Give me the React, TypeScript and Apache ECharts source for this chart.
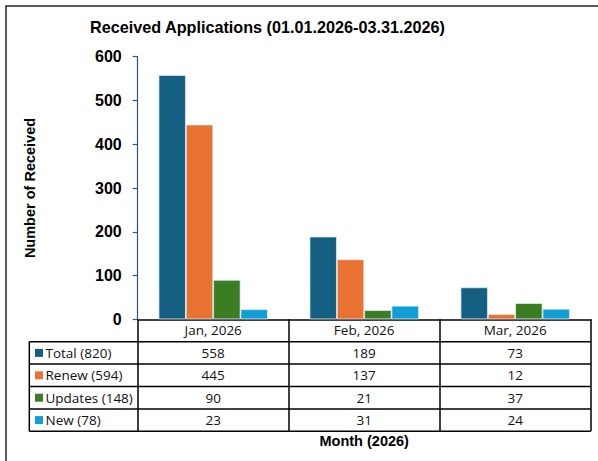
import React, { useEffect, useRef } from 'react';
import * as echarts from 'echarts';

// ---- data ----
const categories = ['Jan, 2026', 'Feb, 2026', 'Mar, 2026'];
const seriesNames = ['Total', 'Renew', 'Updates', 'New'];
const totalValues = [558, 189, 73];
const renewValues = [445, 137, 12];
const updatesValues = [90, 21, 37];
const newValues = [23, 31, 24];
const yMin = 0;
const yMax = 600;
const yInterval = 100;

const titleText = 'Received Applications (01.01.2026-03.31.2026)';
const yAxisName = 'Number of Received';
const xAxisName = 'Month (2026)';

const colors = ['#156082', '#E97132', '#3A7D22', '#0F9ED5'];

// ---- layout ----
const W = 598;
const H = 461;
const GRID_LEFT = 137.7;
const GRID_RIGHT_X = 590.7;
const GRID_TOP = 56.7;
const AXIS_Y = 319.3;
const ROW_H = 22.4;
const TABLE_LEFT = 29.3;
const ARIAL = '"Liberation Sans", Arial, sans-serif';
const TABLE_FONT = '"Open Sans", "Noto Sans", sans-serif';

export default function App() {
  const ref = useRef<HTMLDivElement>(null);

  useEffect(() => {
    if (!ref.current) return;
    const chart = echarts.init(ref.current, undefined, { renderer: 'svg' });

    const allValues = [totalValues, renewValues, updatesValues, newValues];
    const labels = seriesNames.map(
      (n, i) => `${n} (${allValues[i].reduce((a, b) => a + b, 0)})`
    );

    const graphic: any[] = [];
    // outer frame
    graphic.push({
      type: 'rect',
      silent: true,
      shape: { x: 6, y: 6, width: 700, height: 600 },
      style: { fill: 'none', stroke: '#262626', lineWidth: 1.5 },
    });
    // horizontal table lines
    for (let k = 1; k <= 5; k++) {
      const y = AXIS_Y + ROW_H * k;
      graphic.push({
        type: 'line',
        silent: true,
        shape: { x1: TABLE_LEFT, y1: y, x2: GRID_RIGHT_X, y2: y },
        style: { stroke: '#000', lineWidth: 1.5 },
      });
    }
    // left table edge
    graphic.push({
      type: 'line',
      silent: true,
      shape: { x1: TABLE_LEFT, y1: AXIS_Y + ROW_H, x2: TABLE_LEFT, y2: AXIS_Y + ROW_H * 5 },
      style: { stroke: '#000', lineWidth: 1.5 },
    });
    // legend keys + labels
    labels.forEach((lab, i) => {
      const cy = AXIS_Y + ROW_H * (i + 1.5);
      graphic.push({
        type: 'rect',
        silent: true,
        shape: { x: 35, y: cy - 4, width: 8, height: 8 },
        style: { fill: colors[i] },
      });
      graphic.push({
        type: 'text',
        silent: true,
        x: 45.5,
        y: cy,
        style: {
          text: lab,
          fill: '#111',
          font: `13.5px ${TABLE_FONT}`,
          verticalAlign: 'middle',
          align: 'left',
        },
      });
    });

    const rich: any = {
      h: { fontFamily: TABLE_FONT, fontSize: 13.5, color: '#111', lineHeight: ROW_H, align: 'center' },
      v: { fontFamily: TABLE_FONT, fontSize: 13.5, color: '#111', lineHeight: ROW_H, align: 'center' },
    };

    chart.setOption({
      animation: false,
      backgroundColor: '#fff',
      title: {
        text: titleText,
        left: 90,
        top: 19,
        padding: 0,
        textStyle: { fontFamily: ARIAL, fontSize: 16.2, fontWeight: 'bold', color: '#000' },
      },
      grid: {
        left: GRID_LEFT,
        right: W - GRID_RIGHT_X,
        top: GRID_TOP,
        bottom: H - AXIS_Y,
        containLabel: false,
      },
      xAxis: {
        type: 'category',
        data: categories,
        boundaryGap: true,
        axisLine: { show: true, lineStyle: { color: '#000', width: 1.5 } },
        axisTick: {
          show: true,
          alignWithLabel: false,
          interval: 0,
          length: ROW_H * 5,
          lineStyle: { color: '#000', width: 1.5 },
        },
        axisLabel: {
          interval: 0,
          margin: 0,
          formatter: (val: string, idx: number) => {
            const lines = [`{h|${val}}`];
            allValues.forEach((arr) => lines.push(`{v|${arr[idx]}}`));
            return lines.join('\n');
          },
          rich,
        },
        name: xAxisName,
        nameLocation: 'middle',
        nameGap: 114,
        nameTextStyle: { fontFamily: ARIAL, fontSize: 14.5, fontWeight: 'bold', color: '#000' },
        splitLine: { show: false },
      },
      yAxis: {
        type: 'value',
        min: yMin,
        max: yMax,
        interval: yInterval,
        axisLine: { show: true, lineStyle: { color: '#2F4F8F', width: 1.2 } },
        axisTick: { show: true, length: 5, lineStyle: { color: '#2F4F8F', width: 1.2 } },
        splitLine: { show: false },
        axisLabel: {
          margin: 16,
          fontFamily: ARIAL,
          fontSize: 16,
          fontWeight: 'bold',
          color: '#000',
        },
        name: yAxisName,
        nameLocation: 'middle',
        nameRotate: 90,
        nameGap: 100,
        nameTextStyle: { fontFamily: ARIAL, fontSize: 14.5, fontWeight: 'bold', color: '#000' },
      },
      series: allValues.map((arr, i) => ({
        type: 'bar',
        name: labels[i],
        data: arr,
        barGap: '0%',
        barCategoryGap: '27.6%',
        itemStyle: {
          color: colors[i],
          borderColor: 'rgba(225,238,246,0.9)',
          borderWidth: 0.8,
        },
      })),
      graphic,
    });

    return () => chart.dispose();
  }, []);

  return (
    <div
      ref={ref}
      style={{ position: 'fixed', left: 0, top: 0, width: W, height: H }}
    />
  );
}
